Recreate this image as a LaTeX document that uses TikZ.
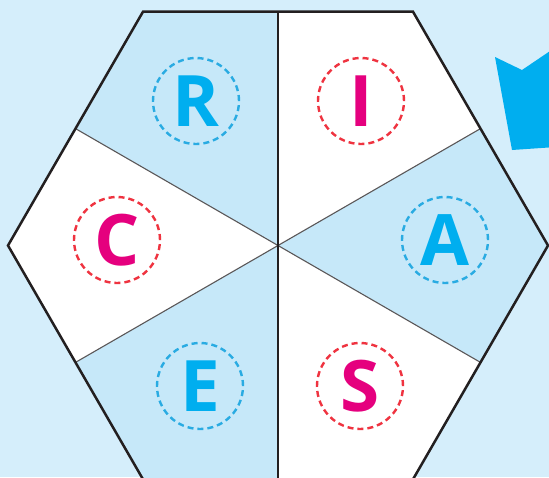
\documentclass[tikz,border=0pt]{standalone}
\usepackage{fontspec}
\setmainfont{Open Sans}
\definecolor{bgblue}{RGB}{213,238,251}
\definecolor{secblue}{RGB}{198,232,249}
\definecolor{cyanL}{RGB}{0,174,239}
\definecolor{magL}{RGB}{229,0,126}
\definecolor{dashB}{RGB}{41,171,226}
\definecolor{dashR}{RGB}{239,51,64}
\definecolor{edge}{RGB}{35,31,32}
\begin{document}
\begin{tikzpicture}[x=1pt,y=-1pt,
  letter/.style={circle,minimum size=86pt,inner sep=0pt,line width=2.4pt,dash pattern=on 6pt off 4pt,font=\fontsize{71}{71}\selectfont\bfseries},
  bl/.style={letter,draw=dashB,text=cyanL},
  rd/.style={letter,draw=dashR,text=magL},
  divider/.style={draw=edge!75,line width=1.1pt},
  mainline/.style={draw=edge,line width=1.8pt}]
\useasboundingbox (0,0) rectangle (549,477);
\clip (0,0) rectangle (549,477);
\fill[bgblue] (0,0) rectangle (549,477);
\coordinate (O) at (278,245.5);
\coordinate (V1) at (143,11.7);
\coordinate (V2) at (413,11.7);
\coordinate (V3) at (548,245.5);
\coordinate (V4) at (413,479.3);
\coordinate (V5) at (143,479.3);
\coordinate (V6) at (8,245.5);
\coordinate (M12) at (278,11.7);
\coordinate (M23) at (480.5,128.6);
\coordinate (M34) at (480.5,362.4);
\coordinate (M45) at (278,479.3);
\coordinate (M56) at (75.5,362.4);
\coordinate (M61) at (75.5,128.6);
% sectors
\fill[secblue] (O) -- (M61) -- (V1) -- (M12) -- cycle;
\fill[secblue] (O) -- (M23) -- (V3) -- (M34) -- cycle;
\fill[secblue] (O) -- (M45) -- (V5) -- (M56) -- cycle;
\fill[white] (O) -- (M12) -- (V2) -- (M23) -- cycle;
\fill[white] (O) -- (M34) -- (V4) -- (M45) -- cycle;
\fill[white] (O) -- (M56) -- (V6) -- (M61) -- cycle;
% dividers
\draw[divider] (M61) -- (M34);
\draw[divider] (M23) -- (M56);
\draw[mainline] (M12) -- (M45);
% hexagon
\draw[edge,line width=2.5pt,line join=miter] (V1) -- (V2) -- (V3) -- (V4) -- (V5) -- (V6) -- cycle;
% arrow shape
\fill[cyanL] (495,57) -- (522,70) -- (556,47) -- (556,147) -- (512,150) -- cycle;
% letters
\node[bl] (R) at (196,101) {R};
\node[rd] (I) at (361,101) {I};
\node[rd] (C) at (117,240) {C};
\node[bl] (A) at (445,240) {A};
\node[bl] (E) at (200,386) {E};
\node[rd] (S) at (360,386) {S};
\end{tikzpicture}
\end{document}
